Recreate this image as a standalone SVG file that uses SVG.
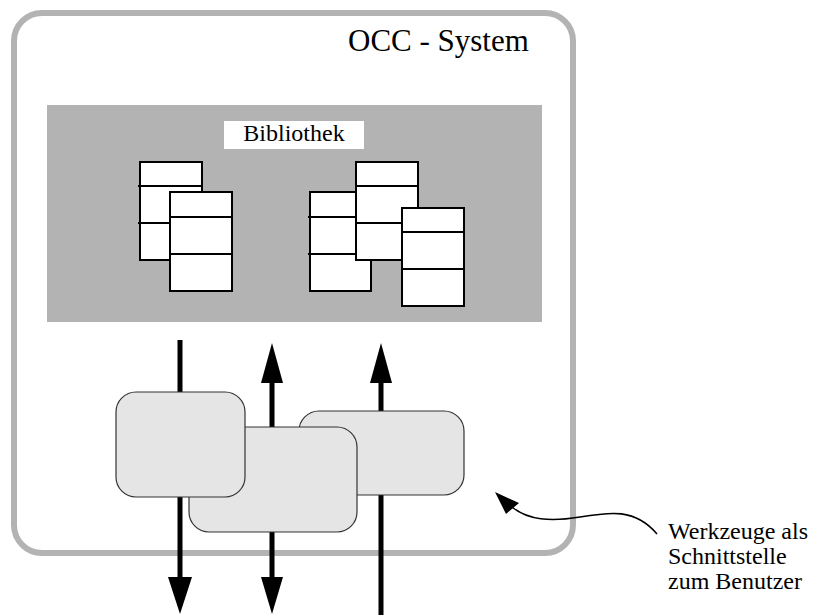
<svg xmlns="http://www.w3.org/2000/svg" width="815" height="615" viewBox="0 0 815 615">
<defs>
<style>
.lbl{font-family:"Liberation Serif","Times New Roman",serif;fill:#000}
.doc rect{fill:#fff;stroke:#000;stroke-width:2}
.doc line{stroke:#000;stroke-width:2}
.tool{fill:#e5e5e5;stroke:#333;stroke-width:1.2}
.shaft{stroke:#000;stroke-width:5;fill:none}
.head{fill:#000}
</style>
</defs>
<rect width="815" height="615" fill="#fff"/>
<g id="system">
<rect x="14" y="13" width="559" height="540" rx="28" fill="#fff" stroke="#b3b3b3" stroke-width="6"/>
<text class="lbl" x="348" y="51" font-size="31">OCC - System</text>
</g>
<g id="bibliothek">
<rect x="47" y="105" width="495" height="217" fill="#b3b3b3"/>
<rect x="224" y="121" width="140" height="28" fill="#fff"/>
<text class="lbl" x="294" y="141" font-size="24" text-anchor="middle">Bibliothek</text>
</g>
<g id="doc1" class="doc">
<rect x="140" y="162" width="62" height="98"/>
<line x1="138" y1="186" x2="202" y2="186"/>
<line x1="138" y1="223" x2="202" y2="223"/>
</g>
<g id="doc2" class="doc">
<rect x="170" y="192" width="62" height="99"/>
<line x1="170" y1="217" x2="232" y2="217"/>
<line x1="170" y1="254" x2="232" y2="254"/>
</g>
<g id="doc3" class="doc">
<rect x="310" y="192" width="61" height="99"/>
<line x1="308" y1="217" x2="371" y2="217"/>
<line x1="308" y1="254" x2="371" y2="254"/>
</g>
<g id="doc4" class="doc">
<rect x="356" y="162" width="62" height="98"/>
<line x1="356" y1="186" x2="418" y2="186"/>
<line x1="356" y1="223" x2="418" y2="223"/>
</g>
<g id="doc5" class="doc">
<rect x="402" y="208" width="62" height="98"/>
<line x1="402" y1="232" x2="464" y2="232"/>
<line x1="402" y1="269" x2="464" y2="269"/>
</g>
<g id="connectors">
<line class="shaft" x1="180" y1="340" x2="180" y2="580"/>
<polygon class="head" points="168,577 192,577 180,614"/>
<line class="shaft" x1="272" y1="380" x2="272" y2="580"/>
<polygon class="head" points="272,343 261,383 283,383"/>
<polygon class="head" points="261,577 283,577 272,614"/>
<line class="shaft" x1="381" y1="380" x2="381" y2="615"/>
<polygon class="head" points="381,343 370,383 392,383"/>
<path d="M 657 534 C 635 508, 610 512, 580 517 C 550 522, 528 520, 512 507" fill="none" stroke="#000" stroke-width="1.6"/>
<polygon class="head" points="495,492 506,514 519,503"/>
</g>
<g id="tool3"><rect class="tool" x="299" y="411" width="165" height="84" rx="20"/></g>
<g id="tool2"><rect class="tool" x="189" y="427" width="168" height="105" rx="20"/></g>
<g id="tool1"><rect class="tool" x="116" y="392" width="129" height="105" rx="20"/></g>
<g id="callout">
<text class="lbl" font-size="24" x="668" y="539">Werkzeuge als</text>
<text class="lbl" font-size="24" x="668" y="564">Schnittstelle</text>
<text class="lbl" font-size="24" x="668" y="589">zum Benutzer</text>
</g>
</svg>
